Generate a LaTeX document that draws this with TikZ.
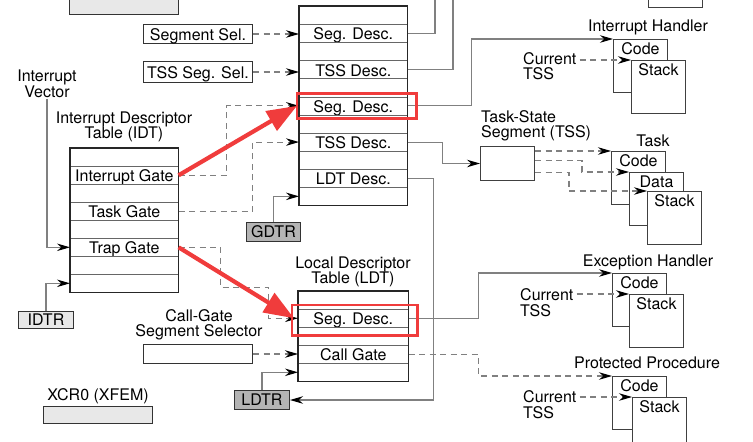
\documentclass[tikz,border=0pt]{standalone}
\usepackage{fontspec}
\setmainfont{TeX Gyre Heros}
\usepackage{tikz}
\usepackage{xcolor}
\usetikzlibrary{arrows.meta, positioning, calc}
\definecolor{rojo}{RGB}{240,60,60}
\definecolor{grisclaro}{RGB}{232,232,232}
\definecolor{grismedio}{RGB}{180,180,180}
\definecolor{gristrazo}{RGB}{128,128,128}
\tikzstyle{fila} = [draw=black!60, line width=0.6pt, 
minimum width=108pt, minimum height=18pt, 
text height=13pt, text depth=0pt, 
inner sep=0pt, anchor=north west]
\tikzstyle{tabla} = [draw=black!85, line width=1.2pt]
\tikzstyle{selector} = [draw=black!80, line width=1pt, fill=white, minimum width=109pt, minimum height=19pt, text height=12.5pt, text depth=0pt, inner sep=0pt, anchor=north west]
\tikzstyle{registro} = [draw=black!80, line width=1pt, minimum height=18pt, inner sep=0pt, anchor=north west]
\tikzstyle{segmento} = [draw=black!75, line width=1pt, fill=white, minimum width=54pt, minimum height=53pt, inner sep=0pt, anchor=north west]
\tikzstyle{nombre} = [anchor=north, inner sep=3.5pt]
\tikzstyle{texto} = [align=center, inner sep=1pt]
\tikzstyle{linea} = [gristrazo, line width=1.1pt]
\tikzstyle{flecha} = [linea, -{Stealth[length=13pt,width=7.5pt,color=black]}]
\tikzstyle{flechad} = [flecha, dash pattern=on 6pt off 4.5pt]
\tikzstyle{flecharoja} = [rojo, line width=4.2pt, -{Triangle[length=30pt,width=22pt]}]
\tikzstyle{marcorojo} = [rojo, line width=2.8pt]

\begin{document}
\begin{tikzpicture}[x=1pt, y=-1pt, font=\fontsize{16}{15.5}\selectfont]
        \useasboundingbox (0,0) rectangle (753,442);
        % Registro superior y selectores
        \node[registro, fill=grisclaro, minimum width=109pt, minimum height=30pt] (eflags) at (69,-16) {};
        \node[selector] (segsel) at (143,24) {Segment Sel.};
        \node[selector, minimum height=21pt] (tsssel) at (143,61) {TSS Seg. Sel.};
        \node[selector] (cgsel) at (143,344) {};
        
        % Tablas (GDT, IDT, LDT)
        \foreach \desc [count=\i from 0] in {{},Seg. Desc.,{},TSS Desc.,{},Seg. Desc.,{},TSS Desc.,{},LDT Desc.,{}}
            \node[fila, minimum height=18.1pt] (gdt-\i) at (299,{6+18.1*\i}) {\desc};
        \draw[tabla] (gdt-0.north west) rectangle (gdt-10.south east);
        \foreach \desc [count=\i from 0] in {{},Interrupt Gate,{},Task Gate,{},Trap Gate,{},{}}
            \node[fila] (idt-\i) at (70,{148+18*\i}) {\desc};
        \draw[tabla] (idt-0.north west) rectangle (idt-7.south east);
        \foreach \desc [count=\i from 0] in {{},Seg. Desc.,{},Call Gate,{}}
            \node[fila, minimum width=110pt] (ldt-\i) at (298,{291+18*\i}) {\desc};
        \draw[tabla] (ldt-0.north west) rectangle (ldt-4.south east);
        
        % Etiquetas
        \node[texto] (vector) at (47,84) {Interrupt\\Vector};
        \node[texto] (idtlab) at (124,127) {Interrupt Descriptor\\Table (IDT)};
        \node[texto] (ldtlab) at (353,272) {Local Descriptor\\Table (LDT)};
        \node[texto] (cglab) at (199,325) {Call-Gate\\Segment Selector};
        \node[texto, align=left, anchor=west] (tsslab) at (480,126) {Task-State\\Segment (TSS)};
        \node[texto] (xcrlab) at (98,396) {XCR0 (XFEM)};
        
        % Registros
        \node[registro, fill=grisclaro, minimum width=55pt, minimum height=17pt] (idtr) at (18,311) {IDTR};
        \node[registro, fill=grismedio, minimum width=54pt, minimum height=19pt] (gdtr) at (246,222) {GDTR};
        \node[registro, fill=grismedio, minimum width=55pt, minimum height=19pt] (ldtr) at (234,390) {LDTR};
        \node[registro, fill=grisclaro, minimum width=109pt, minimum height=17pt] (xcr) at (43,406) {};
        
        % Segmentos de destino
        \node[segmento, minimum height=34pt] (tss) at (480,146) {};
        \node[segmento] (sup) at (648,-46) {};
        \node[texto] (ihlab) at (648,27) {Interrupt Handler};
        \node[segmento, label={[nombre]north:Code}] (ihcode) at (613,39) {};
        \node[segmento, label={[nombre]north:Stack}] (ihstack) at (631,60) {};
        \node[texto, align=left, anchor=west, inner sep=3pt] (ihcur) at (520,66) {Current\\TSS};
        \node[texto] (tklab) at (653,141) {Task};
        \node[segmento, label={[nombre]north:Code}] (tkcode) at (611,151) {};
        \node[segmento, label={[nombre]north:Data}] (tkdata) at (629,172) {};
        \node[segmento, label={[nombre]north:Stack}] (tkstack) at (647,191) {};
        \node[texto] (ehlab) at (648,262) {Exception Handler};
        \node[segmento, label={[nombre]north:Code}] (ehcode) at (612,273) {};
        \node[segmento, label={[nombre]north:Stack}] (ehstack) at (629,294) {};
        \node[texto, align=left, anchor=west, inner sep=3pt] (ehcur) at (517,302.5) {Current\\TSS};
        \node[texto] (pplab) at (647,363) {Protected Procedure};
        \node[segmento, label={[nombre]north:Code}] (ppcode) at (612,376) {};
        \node[segmento, label={[nombre]north:Stack}] (ppstack) at (632,397) {};
        \node[texto, align=left, anchor=west, inner sep=3pt] (ppcur) at (520,404.5) {Current\\TSS};
        
        % Conexiones hacia las tablas
        \draw[flechad] (segsel.east) -- (segsel.east -| gdt-1.west);
        \draw[flechad] (tsssel.east) -- (tsssel.east -| gdt-3.west);
        \draw[flechad] (idt-1.east) -- ++(48,0) |- (gdt-5.west);
        \draw[flechad] (idt-3.east) -- ++(74,0) |- (gdt-7.west);
        \draw[flechad] (idt-5.east) -- ++(42,0) -- ++(0,40) -- ++(48,0) |- (ldt-1.west);
        \draw[flechad] (cgsel.east) -- (cgsel.east -| ldt-3.west);
        \draw[flecha] (vector.south) |- (idt-5.west);
        \draw[flecha] (idtr.north) |- (idt-7.west);
        \draw[flecha] (gdtr.north) |- (gdt-10.west);
        \draw[flecha] (ldtr.north) |- (ldt-4.west);
        \draw[flecha] (gdt-9.east) -- ++(26,0) |- (ldtr.east);
        
        % Salidas de la GDT y la LDT
        \coordinate (sal1) at (435,-10);
        \coordinate (sal2) at (453,-10);
        \draw[linea] (gdt-1.east) -| (sal1);
        \draw[linea] (gdt-3.east) -| (sal2);
        \draw[flecha] (gdt-5.east) -- ++(64,0) |- (ihcode.north west);
        \draw[flecha] (gdt-7.east) -- ++(35,0) |- (tss.west);
        \draw[flechad] (tss.east |- tkcode.north west) -- (tkcode.north west);
        \draw[flechad] ([yshift=3pt]tss.east) -- ++(47,0) |- (tkdata.north west);
        \draw[flechad] ([yshift=-9pt]tss.east) -- ++(34,0) |- (tkstack.north west);
        \draw[flecha] (ldt-1.east) -- ++(70,0) |- (ehcode.north west);
        \draw[flechad] (ldt-3.east) -- ++(70,0) |- (ppcode.north west);
        
        % TSS actual
        \draw[flechad] (ihcur.east |- ihstack.north west) -- (ihstack.north west);
        \draw[flechad] (ehcur.east |- ehstack.north west) -- (ehstack.north west);
        \draw[flechad] (ppcur.east |- ppstack.north west) -- (ppstack.north west);
        
        % Marcas rojas
        \draw[marcorojo] ([shift={(-2,-3)}]gdt-5.north west) rectangle ([shift={(9,3)}]gdt-5.south east);
        \draw[marcorojo] ([shift={(-6,-4)}]ldt-1.north west) rectangle ([shift={(9,8)}]ldt-1.south east);
        \draw[flecharoja] (idt-1.east) -- ([xshift=-2pt]gdt-5.west);
        \draw[flecharoja] (idt-5.east) -- ([xshift=-4pt]ldt-1.west);
        
    \end{tikzpicture}
\end{document}
